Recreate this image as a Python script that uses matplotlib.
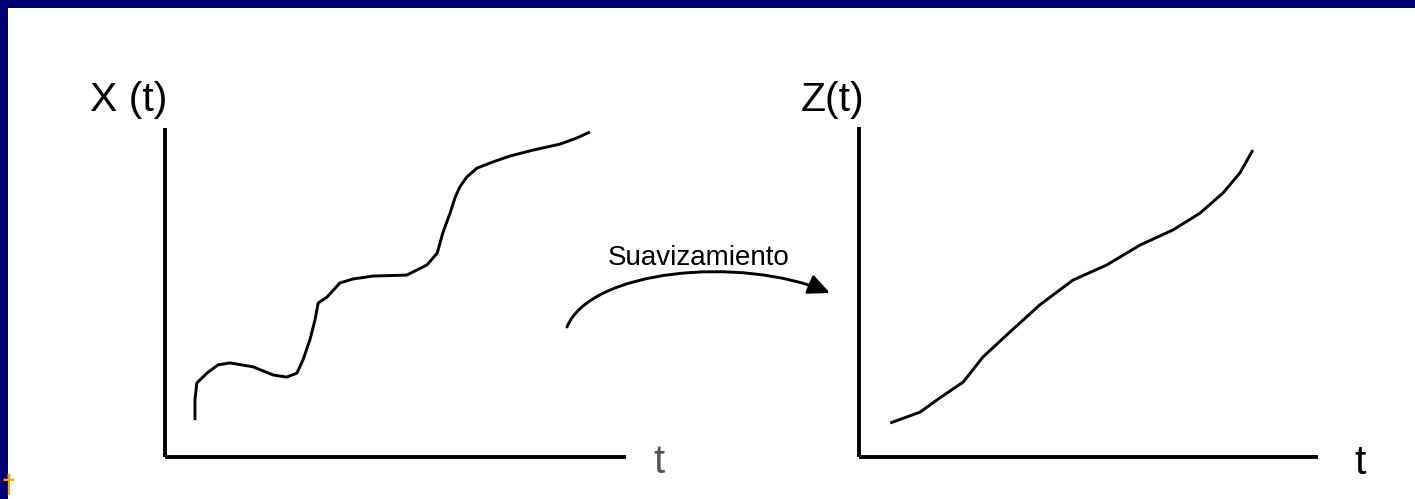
import matplotlib
matplotlib.use("Agg")
import matplotlib.pyplot as plt
from matplotlib.path import Path
from matplotlib.patches import FancyArrowPatch, Rectangle

# ---- data ----
x_t = [0.66, 0.66, 0.70, 0.92, 1.16, 1.42, 1.92, 2.36, 2.65, 2.87, 3.00, 3.15,
       3.26, 3.33, 3.52, 3.80, 4.08, 4.52, 5.25, 5.69, 5.91, 6.03, 6.19, 6.30,
       6.40, 6.55, 6.77, 7.12, 7.49, 7.99, 8.57, 8.94, 9.22]
x_vals = [1.12, 1.73, 2.25, 2.55, 2.80, 2.86, 2.74, 2.49, 2.43, 2.55, 2.95, 3.56,
          4.16, 4.68, 4.86, 5.29, 5.41, 5.50, 5.53, 5.84, 6.20, 6.81, 7.42, 7.90,
          8.21, 8.51, 8.78, 8.97, 9.15, 9.33, 9.51, 9.70, 9.88]

z_t = [0.68, 1.33, 1.76, 2.27, 2.70, 3.29, 3.94, 4.66, 5.40, 6.12, 6.84, 7.43,
       7.93, 8.30, 8.58]
z_vals = [1.03, 1.36, 1.79, 2.27, 3.03, 3.79, 4.61, 5.36, 5.82, 6.42, 6.88, 7.39,
          8.00, 8.61, 9.30]

left_ylabel = "X (t)"
right_ylabel = "Z(t)"
xlabel = "t"
arrow_label = "Suavizamiento"

# ---- figure ----
W, H = 1415, 499
NAVY = "#000070"
fig = plt.figure(figsize=(W / 100, H / 100), dpi=100, facecolor=NAVY)
plt.rcParams["font.family"] = ["Liberation Sans", "DejaVu Sans"]

# white panel inside navy border (top & left border)
bg = fig.add_axes([0, 0, 1, 1], zorder=0)
bg.set_xlim(0, W)
bg.set_ylim(H, 0)
bg.axis("off")
bg.add_patch(Rectangle((8, 8), W, H, facecolor="white", edgecolor="none"))


def style(ax):
    ax.set_xlim(0, 10)
    ax.set_ylim(0, 10)
    ax.set_facecolor("none")
    for s in ("top", "right"):
        ax.spines[s].set_visible(False)
    for s in ("left", "bottom"):
        ax.spines[s].set_linewidth(2.8)
        ax.spines[s].set_color("black")
        ax.spines[s].set_capstyle("butt")
    ax.set_xticks([])
    ax.set_yticks([])


ax1 = fig.add_axes([164.5 / W, (H - 457) / H, (626 - 164.5) / W, (457 - 128) / H], zorder=2)
style(ax1)
ax1.plot(x_t, x_vals, color="black", lw=2.1, solid_joinstyle="round",
         solid_capstyle="butt")

ax2 = fig.add_axes([859 / W, (H - 457) / H, (1318 - 859) / W, (457 - 127) / H], zorder=2)
style(ax2)
ax2.plot(z_t, z_vals, color="black", lw=2.1, solid_joinstyle="round",
         solid_capstyle="butt")

# overlay for labels and the smoothing arrow (pixel coordinates)
ov = fig.add_axes([0, 0, 1, 1], zorder=3)
ov.set_xlim(0, W)
ov.set_ylim(H, 0)
ov.axis("off")
ov.patch.set_alpha(0)

ov.text(90, 111, left_ylabel, fontsize=29.5, ha="left", va="baseline", color="black")
ov.text(864, 111, right_ylabel, fontsize=29.5, ha="right", va="baseline", color="black")
ov.text(659, 473, xlabel, fontsize=29, ha="center", va="baseline", color="#555555")
ov.text(1360, 474, xlabel, fontsize=29.5, ha="center", va="baseline", color="black")
ov.text(608, 265, arrow_label, fontsize=20, ha="left", va="baseline", color="black")
ov.text(1, 498, "\u2020", fontsize=18, fontweight="bold", ha="left",
        va="bottom", color="#FFA500")

ARROW_PATH = [(567, 327), (590, 270), (740, 255), (830, 293)]
arrow = FancyArrowPatch(
    path=Path(ARROW_PATH, [Path.MOVETO, Path.CURVE4, Path.CURVE4, Path.CURVE4]),
    arrowstyle="-|>,head_length=13,head_width=6",
    color="black", lw=2.1, transform=ov.transData,
)
ov.add_patch(arrow)

fig.savefig("out.png", dpi=100, facecolor=NAVY)
